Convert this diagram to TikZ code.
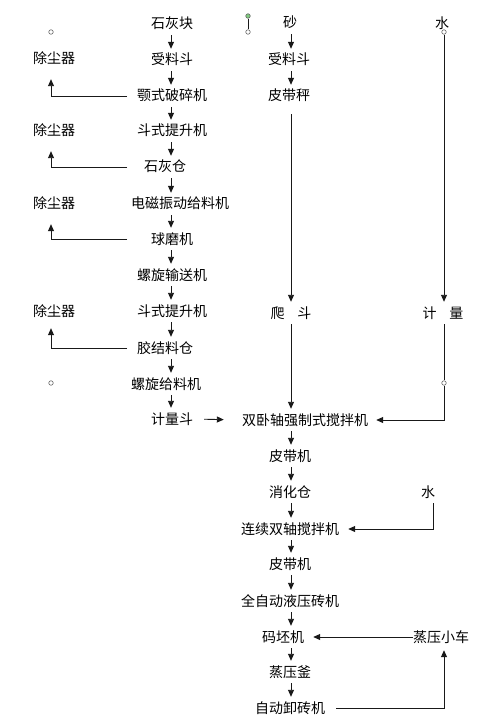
\documentclass[tikz,border=0pt]{standalone}
\usepackage{fontspec}
\newfontfamily\cjk{Noto Sans CJK SC}
\usetikzlibrary{arrows.meta}
\begin{document}
\begin{tikzpicture}[x=1pt,y=-1pt,
  lbl/.style={font=\cjk\fontsize{14}{15}\selectfont, inner sep=0pt, text height=12pt, text depth=2pt, minimum height=22pt, text=black},
  ln/.style={draw=black!90, line width=0.9pt},
  arr/.style={ln, -{Triangle[length=7pt,width=6pt]}},
  dot/.style={circle, draw=black!60, fill=white, line width=0.6pt, inner sep=0pt, minimum size=4.5pt}]
\useasboundingbox[fill=white] (0,0) rectangle (500,719);
% column coordinates
\coordinate (cL) at (51,0);
\coordinate (cF) at (127,0);
\coordinate (cA) at (171,0);
\coordinate (cB) at (291,0);
\coordinate (cW) at (444,0);
\coordinate (cW2) at (433,0);
\coordinate (cT) at (444,0);
% left column
\node[lbl] (a1) at (172,24) {石灰块};
\node[lbl] (a2) at (172,60) {受料斗};
\node[lbl] (a3) at (172,96) {颚式破碎机};
\node[lbl] (a4) at (172,131) {斗式提升机};
\node[lbl] (a5) at (165,167) {石灰仓};
\node[lbl] (a6) at (180,204) {电磁振动给料机};
\node[lbl] (a7) at (172,239) {球磨机};
\node[lbl] (a8) at (172,275) {螺旋输送机};
\node[lbl] (a9) at (172,311) {斗式提升机};
\node[lbl] (a10) at (165,348) {胶结料仓};
\node[lbl] (a11) at (166,384) {螺旋给料机};
\node[lbl] (a12) at (172,419) {计量斗};
% dust collectors
\node[lbl] (d1) at (54,59) {除尘器};
\node[lbl] (d2) at (54,131) {除尘器};
\node[lbl] (d3) at (54,204) {除尘器};
\node[lbl] (d4) at (54,311) {除尘器};
\node[dot] (o1) at (51,32) {};
\node[dot] (o2) at (51,383) {};
% sand column
\node[lbl] (b1) at (290,23) {砂};
\node[lbl] (b2) at (289,60) {受料斗};
\node[lbl] (b3) at (289,96) {皮带秤};
\node[lbl] (b4) at (291,313) {爬\hspace{13pt}斗};
% water column
\node[lbl] (w1) at (442,24) {水};
\node[dot] (ow1) at (444,32) {};
\node[lbl] (w2) at (443,313) {计\hspace{13pt}量};
\node[dot] (ow2) at (444,383) {};
% selection handle artifact
\node[dot, fill=green!60!black!50] (g1) at (248,16) {};
\node[dot] (g2) at (248,32) {};
\draw[ln, line width=0.6pt] (g1) -- (g2);
% main lower column
\node[lbl] (m1) at (305,420) {双卧轴强制式搅拌机};
\node[lbl] (m2) at (290,456) {皮带机};
\node[lbl] (m3) at (290,492) {消化仓};
\node[lbl] (m4) at (290,529) {连续双轴搅拌机};
\node[lbl] (m5) at (290,564) {皮带机};
\node[lbl] (m6) at (290,601) {全自动液压砖机};
\node[lbl] (m7) at (283,637) {码坯机};
\node[lbl] (m8) at (290,672) {蒸压釜};
\node[lbl] (m9) at (290,708) {自动卸砖机};
\node[lbl] (w3) at (428,492) {水};
\node[lbl] (t1) at (441,637) {蒸压小车};
\coordinate (bot) at (291,724);
% left column arrows
\foreach \i/\j in {a1/a2,a2/a3,a3/a4,a4/a5,a5/a6,a6/a7,a7/a8,a8/a9,a9/a10,a10/a11,a11/a12}
  \draw[arr] (\i.south -| cA) -- (\j.north -| cA);
% feedback to dust collectors
\draw[arr, shorten >=9pt] (a3.center -| cF) -| (d1.south -| cL);
\draw[arr, shorten >=9pt] (a5.center -| cF) -| (d2.south -| cL);
\draw[arr, shorten >=9pt] (a7.center -| cF) -| (d3.south -| cL);
\draw[arr, shorten >=6pt] (a10.center -| cF) -| (d4.south -| cL);
% sand
\draw[arr] (b1.south -| cB) -- (b2.north -| cB);
\draw[arr] (b2.south -| cB) -- (b3.north -| cB);
\draw[arr, shorten <=7pt] (b3.south -| cB) -- (b4.north -| cB);
\draw[arr] (b4.south -| cB) -- (m1.north -| cB);
% water
\draw[arr] (ow1) -- (w2.north -| cW);
\draw[ln] (w2.south -| cW) -- (ow2);
\draw[arr, shorten >=8pt] (ow2) |- (m1.east);
% metering hopper to mixer
\draw[arr, shorten <=11pt, shorten >=18pt] (a12.east) -- (m1.west);
% lower column
\foreach \i/\j in {m1/m2,m2/m3,m3/m4,m4/m5,m5/m6,m6/m7,m7/m8,m8/m9}
  \draw[arr] (\i.south -| cB) -- (\j.north -| cB);
\draw[ln] (m9.south -| cB) -- (bot);
\draw[arr, shorten >=9pt] (w3.south -| cW2) |- (m4.east);
\draw[arr, shorten >=9pt] (t1.west) -- (m7.east);
\draw[arr, shorten <=11pt, shorten >=2pt] (m9.east) -| (t1.south -| cT);
\end{tikzpicture}
\end{document}
